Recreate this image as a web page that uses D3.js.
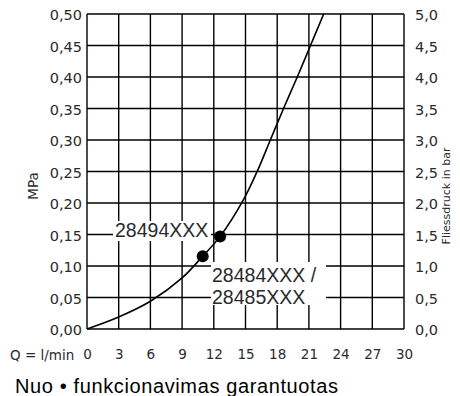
<!DOCTYPE html>
<html>
<head>
<meta charset="utf-8">
<script src="https://cdn.jsdelivr.net/npm/d3@7"></script>
<style>
  html, body { margin: 0; padding: 0; background: #fff; }
  svg { display: block; }
</style>
</head>
<body>
<svg id="chart" width="460" height="396"></svg>
<script>
// ---- data ----
const flowQ     = [0, 3, 6, 9, 10.95, 12.6, 14.8, 16.1, 17.35, 18.6, 19.9, 21.15, 22.4];
const pressure  = [0, 0.019, 0.044, 0.081, 0.1155, 0.147, 0.205, 0.25, 0.30, 0.35, 0.40, 0.45, 0.50];
const markQ     = [10.95, 12.6];
const markP     = [0.1155, 0.147];
const xTicks    = [0, 3, 6, 9, 12, 15, 18, 21, 24, 27, 30];
const yTicksMPa = [0, 0.05, 0.10, 0.15, 0.20, 0.25, 0.30, 0.35, 0.40, 0.45, 0.50];
const yTicksBar = [0, 0.5, 1.0, 1.5, 2.0, 2.5, 3.0, 3.5, 4.0, 4.5, 5.0];
const labelTop  = "28494XXX";
const labelBot1 = "28484XXX /";
const labelBot2 = "28485XXX";
const xAxisName = "Q = l/min";
const yLeftName = "MPa";
const yRightName = "Fliessdruck in bar";
const caption   = "Nuo • funkcionavimas garantuotas";

// ---- layout ----
const svg = d3.select("#chart");
const L = 87, R = 404, T = 14, B = 329;
const x = d3.scaleLinear().domain([0, 30]).range([L, R]);
const y = d3.scaleLinear().domain([0, 0.5]).range([B, T]);
const yBar = d3.scaleLinear().domain([0, 5]).range([B, T]);
const fmt2 = d => d3.format(".2f")(d).replace(".", ",");
const fmt1 = d => d3.format(".1f")(d).replace(".", ",");
const axisFont = "'DejaVu Sans', sans-serif";
const textColor = "#2a2a2a";

// grid
const grid = svg.append("g").attr("stroke", "#000").attr("stroke-width", 1.4);
grid.selectAll("line.v").data(xTicks).join("line")
  .attr("x1", d => x(d)).attr("x2", d => x(d)).attr("y1", T).attr("y2", B);
grid.selectAll("line.h").data(yTicksMPa).join("line")
  .attr("y1", d => y(d)).attr("y2", d => y(d)).attr("x1", L).attr("x2", R);

// curve
const pts = flowQ.map((q, i) => [q, pressure[i]]);
svg.append("path").datum(pts)
  .attr("fill", "none").attr("stroke", "#000").attr("stroke-width", 1.6)
  .attr("d", d3.line().x(d => x(d[0])).y(d => y(d[1])).curve(d3.curveCatmullRom.alpha(0.5)));

// label backgrounds
svg.append("rect").attr("x", 113).attr("y", 221).attr("width", 98).attr("height", 20).attr("fill", "#fff");
svg.append("rect").attr("x", 211).attr("y", 262).attr("width", 115).attr("height", 43).attr("fill", "#fff");

// dots
svg.selectAll("circle.m").data(markQ).join("circle")
  .attr("cx", d => x(d)).attr("cy", (d, i) => y(markP[i])).attr("r", 6).attr("fill", "#000");

// labels
const lab = svg.append("g").attr("font-family", "'Liberation Sans', Arial, sans-serif")
  .attr("font-size", 19.5).attr("fill", textColor);
lab.append("text").attr("x", 115).attr("y", 237).text(labelTop);
lab.append("text").attr("x", 212).attr("y", 282).text(labelBot1);
lab.append("text").attr("x", 212).attr("y", 303.5).text(labelBot2);

// left axis
const ax = svg.append("g").attr("transform", `translate(${L - 5},0)`)
  .call(d3.axisLeft(y).tickValues(yTicksMPa).tickFormat(fmt2).tickSize(0).tickPadding(0));
ax.select(".domain").remove();
ax.selectAll("text").attr("font-family", axisFont).attr("font-size", 14.5).attr("fill", textColor).attr("dy", "0.4em");

// right axis
const axr = svg.append("g").attr("transform", `translate(${R + 11},0)`)
  .call(d3.axisRight(yBar).tickValues(yTicksBar).tickFormat(fmt1).tickSize(0).tickPadding(0));
axr.select(".domain").remove();
axr.selectAll("text").attr("font-family", axisFont).attr("font-size", 14.5).attr("fill", textColor).attr("dy", "0.4em");

// bottom axis
const axb = svg.append("g").attr("transform", `translate(0,${B + 20})`)
  .call(d3.axisBottom(x).tickValues(xTicks).tickFormat(d3.format("d")).tickSize(0).tickPadding(0));
axb.select(".domain").remove();
axb.selectAll("text").attr("font-family", axisFont).attr("font-size", 13.5).attr("fill", textColor);

// axis names
svg.append("text").attr("x", 10).attr("y", 360)
  .attr("font-family", axisFont).attr("font-size", 13.5).attr("fill", textColor).text(xAxisName);
svg.append("text").attr("transform", "translate(38,186) rotate(-90)").attr("text-anchor", "middle")
  .attr("font-family", axisFont).attr("font-size", 13.5).attr("fill", textColor).text(yLeftName);
svg.append("text").attr("transform", "translate(450,196) rotate(-90)").attr("text-anchor", "middle")
  .attr("font-family", axisFont).attr("font-size", 11).attr("fill", textColor).text(yRightName);

// caption
svg.append("text").attr("x", 15).attr("y", 393)
  .attr("font-family", "'Liberation Sans', Arial, sans-serif").attr("font-size", 20)
  .attr("textLength", 323).attr("lengthAdjust", "spacing")
  .attr("fill", "#000").text(caption);
</script>
</body>
</html>
